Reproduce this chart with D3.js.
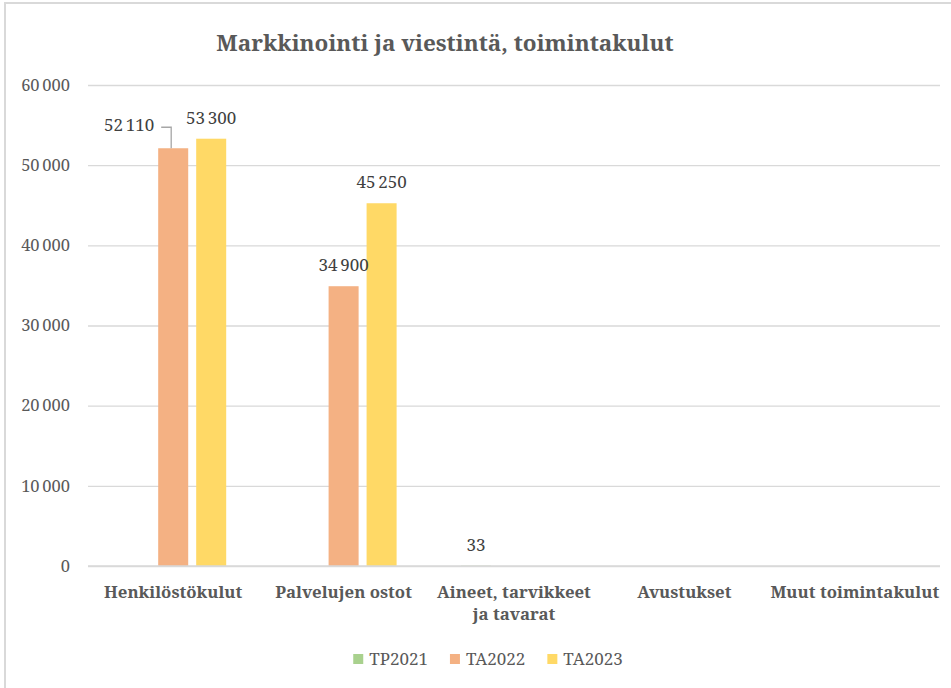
<!DOCTYPE html>
<html>
<head>
<meta charset="utf-8">
<script src="https://cdn.jsdelivr.net/npm/d3@7"></script>
<style>
  body { margin: 0; background: #fff; }
  svg text { font-family: "Noto Serif", "Liberation Serif", serif; }
</style>
</head>
<body>
<div id="chart"></div>
<script>
// data
var categories = ["Henkilöstökulut", "Palvelujen ostot", "Aineet, tarvikkeet ja tavarat", "Avustukset", "Muut toimintakulut"];
var series = ["TP2021", "TA2022", "TA2023"];
var tp2021 = [null, null, 33, null, null];
var ta2022 = [52110, 34900, null, null, null];
var ta2023 = [53300, 45250, null, null, null];
var yTicks = [0, 10000, 20000, 30000, 40000, 50000, 60000];

var values = { "TP2021": tp2021, "TA2022": ta2022, "TA2023": ta2023 };
var colors = { "TP2021": "#A9D18E", "TA2022": "#F4B183", "TA2023": "#FFD966" };
var textColor = "#595959";
var gridColor = "#D9D9D9";

var width = 951, height = 688;
var plot = { left: 88, right: 940, top: 85, bottom: 566 };

var svg = d3.select("#chart").append("svg")
    .attr("width", width)
    .attr("height", height);

// chart area border (the frame runs off the right and bottom of the picture)
svg.append("rect")
    .attr("x", 5).attr("y", 3)
    .attr("width", 1000).attr("height", 1000)
    .attr("fill", "#fff")
    .attr("stroke", gridColor)
    .attr("stroke-width", 2);

var fmt = d3.formatLocale({ decimal: ",", thousands: "\u2009", grouping: [3], currency: ["", " €"] }).format(",d");

var x = d3.scaleBand()
    .domain(categories)
    .range([plot.left, plot.right]);

var xInner = d3.scaleBand()
    .domain(series)
    .range([-53, 53])
    .paddingInner(0.21);

var y = d3.scaleLinear()
    .domain([0, 60000])
    .range([plot.bottom, plot.top]);

// title
svg.append("text")
    .attr("x", 445).attr("y", 51)
    .attr("text-anchor", "middle")
    .attr("font-size", 22.5)
    .attr("font-weight", "bold")
    .attr("fill", textColor)
    .text("Markkinointi ja viestintä, toimintakulut");

// gridlines + y labels
var yAxis = d3.axisLeft(y)
    .tickValues(yTicks)
    .tickSize(-(plot.right - plot.left))
    .tickPadding(18)
    .tickFormat(fmt);

var gy = svg.append("g")
    .attr("transform", "translate(" + plot.left + ",0)")
    .call(yAxis);
gy.select(".domain").remove();
gy.selectAll(".tick line").attr("stroke", gridColor).attr("stroke-width", 1.3);
gy.selectAll(".tick text")
    .attr("fill", textColor)
    .attr("font-size", 16.5);

// bars
var barData = [];
series.forEach(function(s) {
  categories.forEach(function(c, i) {
    if (values[s][i] != null) barData.push({ series: s, cat: c, value: values[s][i] });
  });
});

svg.append("g").selectAll("rect")
  .data(barData)
  .enter().append("rect")
    .attr("x", function(d) { return x(d.cat) + x.bandwidth() / 2 + xInner(d.series); })
    .attr("width", xInner.bandwidth())
    .attr("y", function(d) { return y(d.value); })
    .attr("height", function(d) { return y(0) - y(d.value); })
    .attr("fill", function(d) { return colors[d.series]; });

// x axis line
svg.append("line")
    .attr("x1", plot.left).attr("x2", plot.right)
    .attr("y1", y(0)).attr("y2", y(0))
    .attr("stroke", gridColor)
    .attr("stroke-width", 1.5);

// data labels; the 52 110 label was dragged aside in the original, with a leader line
var movedLabel = { series: "TA2022", cat: "Henkilöstökulut", dx: -44, dy: -2 };

function isMoved(d) { return d.series == movedLabel.series && d.cat == movedLabel.cat; }

svg.append("g").selectAll("text")
  .data(barData)
  .enter().append("text")
    .attr("text-anchor", "middle")
    .attr("font-size", 17)
    .attr("fill", "#404040")
    .attr("x", function(d) {
      var cx = x(d.cat) + x.bandwidth() / 2 + xInner(d.series) + xInner.bandwidth() / 2;
      return isMoved(d) ? cx + movedLabel.dx : cx;
    })
    .attr("y", function(d) {
      var yy = y(d.value) - 15;
      return isMoved(d) ? yy + movedLabel.dy : yy;
    })
    .text(function(d) { return fmt(d.value); });

barData.filter(isMoved).forEach(function(d) {
  var bx = x(d.cat) + x.bandwidth() / 2 + xInner(d.series) + xInner.bandwidth() / 2 - 2;
  var lx = bx + movedLabel.dx + 34;
  var ly = y(d.value) - 21;
  svg.append("path")
      .attr("d", "M" + lx + "," + ly + "H" + bx + "V" + y(d.value))
      .attr("fill", "none")
      .attr("stroke", "#A6A6A6")
      .attr("stroke-width", 1.3);
});

// category labels (bold, wrapped where the original wraps)
var wrapped = { "Aineet, tarvikkeet ja tavarat": ["Aineet, tarvikkeet", "ja tavarat"] };
var catLabels = svg.append("g").selectAll("text")
  .data(categories)
  .enter().append("text")
    .attr("text-anchor", "middle")
    .attr("font-size", 16.8)
    .attr("font-weight", "bold")
    .attr("fill", textColor)
    .attr("x", function(d) { return x(d) + x.bandwidth() / 2; })
    .attr("y", 598);
catLabels.each(function(d) {
  var lines = wrapped[d] || [d];
  var t = d3.select(this);
  lines.forEach(function(l, i) {
    t.append("tspan")
        .attr("x", x(d) + x.bandwidth() / 2)
        .attr("dy", i == 0 ? 0 : 22)
        .text(l);
  });
});

// legend
var legend = svg.append("g");
var lx = 0;
series.forEach(function(s) {
  var item = legend.append("g").attr("transform", "translate(" + lx + ",0)");
  item.append("rect")
      .attr("x", 0).attr("y", -5)
      .attr("width", 10).attr("height", 10)
      .attr("fill", colors[s]);
  var t = item.append("text")
      .attr("x", 16).attr("y", 6)
      .attr("font-size", 17)
      .attr("fill", textColor)
      .text(s);
  lx += 16 + t.node().getComputedTextLength() + 22;
});
var legendW = lx - 22;
legend.attr("transform", "translate(" + (488 - legendW / 2) + ",659)");
</script>
</body>
</html>
